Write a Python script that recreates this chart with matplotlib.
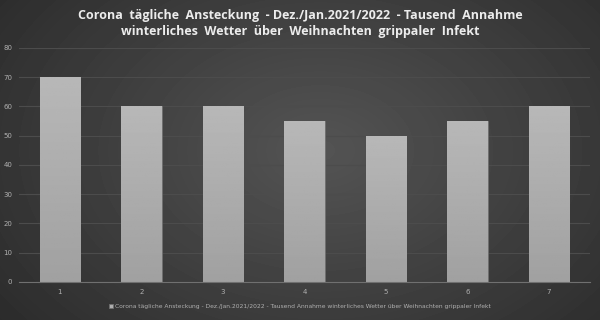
import numpy as np
import matplotlib

matplotlib.use("Agg")
import matplotlib.pyplot as plt

# data
days = [1, 2, 3, 4, 5, 6, 7]
infections = [70, 60, 60, 55, 50, 55, 60]
series_name = ("Corona tägliche Ansteckung - Dez./Jan.2021/2022 - Tausend Annahme "
               "winterliches Wetter über Weihnachten grippaler Infekt")
title_lines = ["Corona  tägliche  Ansteckung  - Dez./Jan.2021/2022  - Tausend  Annahme",
               "winterliches  Wetter  über  Weihnachten  grippaler  Infekt"]
y_ticks = [0, 10, 20, 30, 40, 50, 60, 70, 80]

fig = plt.figure(figsize=(6, 3.2), dpi=100)

# radial gradient background
bg = fig.add_axes([0, 0, 1, 1], zorder=0)
yy, xx = np.mgrid[0:320, 0:600]
r = np.sqrt(((xx - 320) / 430.0) ** 2 + ((yy - 150) / 300.0) ** 2)
shade = np.clip(0.33 - 0.17 * r, 0.14, 0.33)
bg.imshow(shade, cmap="gray", vmin=0, vmax=1, aspect="auto", extent=[0, 1, 0, 1])
bg.axis("off")

ax = fig.add_axes([0.032, 0.119, 0.951, 0.731], zorder=1)
ax.patch.set_alpha(0)
bars = ax.bar(days, infections, width=0.5, color="#adadad", edgecolor="#6e6e6e",
              linewidth=0.6, zorder=3, label=series_name)

# light vertical gradient inside each bar
grad = np.linspace(0.63, 0.72, 100).reshape(-1, 1)
for b in bars:
    x0, w, h = b.get_x(), b.get_width(), b.get_height()
    im = ax.imshow(grad, cmap="gray", vmin=0, vmax=1, aspect="auto", origin="lower",
                   extent=[x0, x0 + w, 0, h], zorder=3.5)
    im.set_clip_path(b)

ax.set_xlim(0.5, 7.5)
ax.set_ylim(0, 80)
ax.set_yticks(y_ticks)
ax.set_xticks(days)
ax.grid(axis="y", color="#4c4c4c", linewidth=0.8, zorder=1)
for side in ["top", "right", "left"]:
    ax.spines[side].set_visible(False)
ax.spines["bottom"].set_color("#707070")
ax.spines["bottom"].set_linewidth(0.8)
ax.spines["bottom"].set_zorder(4)
ax.tick_params(length=0, colors="#b0b0b0", labelsize=5, pad=5)

fig.text(0.5, 0.953, title_lines[0], ha="center", va="center", color="#ececec",
         fontsize=9, fontweight="bold", family="Open Sans")
fig.text(0.5, 0.903, title_lines[1], ha="center", va="center", color="#ececec",
         fontsize=9, fontweight="bold", family="Open Sans")

fig.legend(loc="center", bbox_to_anchor=(0.5, 0.042), frameon=False, fontsize=4.3,
           labelcolor="#b0b0b0", handlelength=0.7, handleheight=0.7, handletextpad=0.3)

fig.savefig("out.png", dpi=100)
